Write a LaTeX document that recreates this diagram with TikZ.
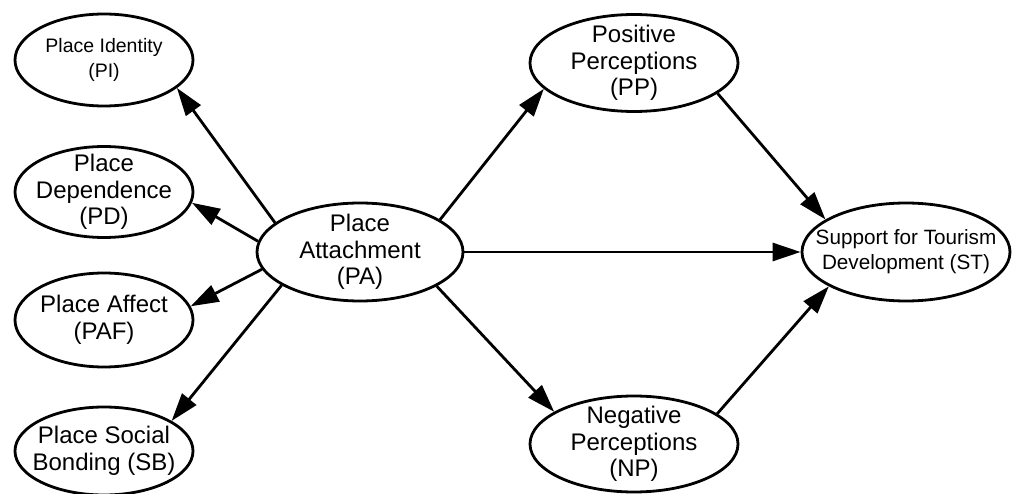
\documentclass[tikz,border=0pt]{standalone}
\usepackage{fontspec}
\setmainfont{Liberation Sans}
\usetikzlibrary{shapes.geometric,arrows.meta}

\tikzset{
  construct/.style={draw, ellipse, line width=2.8pt, inner sep=0pt},
  lbl/.style={align=center, font=\fontsize{24}{26.5}\selectfont},
  lblsmall/.style={align=center, font=\fontsize{19.5}{25}\selectfont},
  lblwide/.style={align=center, font=\fontsize{20.7}{25}\selectfont},
  path/.style={->, line width=2.8pt},
}

\begin{document}
\begin{tikzpicture}[x=1pt,y=-1pt,>={Triangle[length=28pt,width=18pt]}]
\useasboundingbox (0,0) rectangle (1017,494);
% place attachment dimensions
\node[construct, minimum width=178pt, minimum height=92pt, label={[lblsmall]center:Place Identity\\(PI)}] (PI) at (104,60) {};
\node[construct, minimum width=178pt, minimum height=91pt, label={[lbl]center:Place\\Dependence\\(PD)}] (PD) at (104,192) {};
\node[construct, minimum width=178pt, minimum height=94pt, label={[lbl]center:Place Affect\\(PAF)}] (PAF) at (104,320) {};
\node[construct, minimum width=178pt, minimum height=88pt, label={[lbl]center:Place Social\\Bonding (SB)}] (SB) at (104,451) {};
% central and outcome constructs
\node[construct, minimum width=206pt, minimum height=98pt, label={[lbl]center:Place\\Attachment\\(PA)}] (PA) at (360,252) {};
\node[construct, minimum width=208pt, minimum height=97pt, label={[lbl]center:Positive\\Perceptions\\(PP)}] (PP) at (634,63) {};
\node[construct, minimum width=208pt, minimum height=96pt, label={[lbl]center:Negative\\Perceptions\\(NP)}] (NP) at (634,444) {};
\node[construct, minimum width=208pt, minimum height=98pt, label={[lblwide]center:Support for Tourism\\Development (ST)}] (ST) at (906,252) {};
% paths
\draw[path] (PA.161) -- (PI.-21);
\draw[path] (PA.174) -- (PD.-7);
\draw[path] (PA.-170) -- (PAF.9);
\draw[path] (PA.-157) -- (SB.24);
\draw[path] (PA.22) -- (PP.-164);
\draw[path] (PA.-24) -- (NP.158);
\draw[path] (PA.east) -- (ST.west);
\draw[path] (PP.-20) -- (ST.158);
\draw[path] (NP.20) -- (ST.-156);
\end{tikzpicture}
\end{document}
